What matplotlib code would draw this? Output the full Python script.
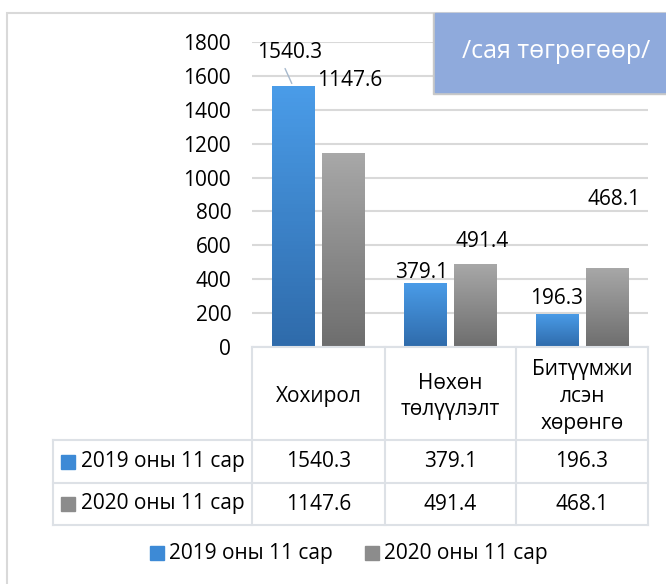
import matplotlib
matplotlib.use('Agg')
from matplotlib import pyplot as plt
from matplotlib.patches import Rectangle
import numpy as np

plt.rcParams['font.family'] = ['Open Sans', 'Noto Sans', 'DejaVu Sans']

categories = ['Хохирол', 'Нөхөн\nтөлүүлэлт', 'Битүүмжи\nлсэн\nхөрөнгө']
series_names = ['2019 оны 11 сар', '2020 оны 11 сар']
values_2019 = [1540.3, 379.1, 196.3]
values_2020 = [1147.6, 491.4, 468.1]
unit_label = '/сая төгрөгөөр/'
yticks = [0, 200, 400, 600, 800, 1000, 1200, 1400, 1600, 1800]

W, H = 666, 584
fs = 15
fig = plt.figure(figsize=(W / 100, H / 100), dpi=100)

def fx(px):
    return px / W

def fy(py):
    return 1 - py / H

# plot area in pixels
x0, x1, ytop, y0 = 252, 648, 42, 347
ax = fig.add_axes([fx(x0), fy(y0), fx(x1) - fx(x0), fy(ytop) - fy(y0)])
ax.set_xlim(-0.5, 2.5)
ax.set_ylim(0, 1800)
ax.set_yticks(yticks)
ax.set_xticks([])
for s in ax.spines.values():
    s.set_visible(False)
ax.tick_params(axis='y', length=0, pad=15, labelsize=fs)
ax.grid(axis='y', color='#d9d9d9', linewidth=1.5)
ax.set_axisbelow(True)

blue_grad = ['#2f6bab', '#4a9ce8']
gray_grad = ['#6e6e6e', '#a8a8a8']

def grad_bar(x, h, w, cols):
    bar = ax.bar(x, h, w, color='none', edgecolor='none', zorder=2)[0]
    c0 = np.array(matplotlib.colors.to_rgb(cols[0]))
    c1 = np.array(matplotlib.colors.to_rgb(cols[1]))
    t = np.linspace(0, 1, 64)[:, None]
    img = (c0 * (1 - t) + c1 * t)[:, None, :]
    im = ax.imshow(img, extent=[x - w / 2, x + w / 2, 0, h], origin='lower',
                   aspect='auto', zorder=2)
    im.set_clip_path(bar)
    return bar

xs = np.arange(len(categories))
bw = 0.32
off = 0.19
for i in xs:
    grad_bar(i - off, values_2019[i], bw, blue_grad)
    grad_bar(i + off, values_2020[i], bw, gray_grad)
ax.set_xlim(-0.5, 2.5)
ax.set_ylim(0, 1800)

# data labels (offsets in pixels, as placed in the original)
lab_off_2019 = [(-3, 34), (-3, 10), (0, 15)]
lab_off_2020 = [(7, 72), (7, 22), (7, 68)]
for i in xs:
    ax.annotate(f'{values_2019[i]:.1f}', (i - off, values_2019[i]),
                xytext=lab_off_2019[i], textcoords='offset pixels',
                ha='center', va='center', fontsize=fs, zorder=4)
    ax.annotate(f'{values_2020[i]:.1f}', (i + off, values_2020[i]),
                xytext=lab_off_2020[i], textcoords='offset pixels',
                ha='center', va='center', fontsize=fs, zorder=4)
# leader line for first label
ax.annotate('', (0 - off, values_2019[0]), xytext=(-9, 20),
            textcoords='offset pixels',
            arrowprops=dict(arrowstyle='-', color='#a6b8cc', lw=1))

# data table below the axes
line_c = '#dde1e6'
col_edges = [x0, 385, 516, x1]
row_y = [y0, 440, 483, 525]
lbl_left = 53
for xe in col_edges:
    fig.add_artist(plt.Line2D([fx(xe)] * 2, [fy(y0), fy(row_y[-1])], color=line_c, lw=1.5))
fig.add_artist(plt.Line2D([fx(x0), fx(x1)], [fy(y0), fy(y0)], color=line_c, lw=1.5))
fig.add_artist(plt.Line2D([fx(lbl_left)] * 2, [fy(row_y[1]), fy(row_y[-1])], color=line_c, lw=1.5))
for ye in row_y[1:]:
    fig.add_artist(plt.Line2D([fx(lbl_left), fx(x1)], [fy(ye), fy(ye)], color=line_c, lw=1.5))

for i, c in enumerate(categories):
    cx = (col_edges[i] + col_edges[i + 1]) / 2
    fig.text(fx(cx), fy((y0 + row_y[1]) / 2 + 3), c, ha='center', va='center',
             fontsize=fs, linespacing=1.35)

row_vals = [values_2019, values_2020]
sw_cols = ['#3d8ad6', '#8c8c8c']
for r in range(2):
    cy = (row_y[r + 1] + row_y[r + 2]) / 2
    fig.add_artist(Rectangle((fx(61), fy(cy + 7)), fx(14), 14 / H, color=sw_cols[r]))
    fig.text(fx(81), fy(cy), series_names[r], ha='left', va='center', fontsize=fs)
    for i in xs:
        cx = (col_edges[i] + col_edges[i + 1]) / 2
        fig.text(fx(cx), fy(cy), f'{row_vals[r][i]:.1f}', ha='center', va='center', fontsize=fs)

# bottom legend
leg_y = 553
for r, lx in enumerate([150, 365]):
    fig.add_artist(Rectangle((fx(lx), fy(leg_y + 7)), fx(14), 14 / H, color=sw_cols[r]))
    fig.text(fx(lx + 19), fy(leg_y), series_names[r], ha='left', va='center', fontsize=fs)

# outer frame
fig.add_artist(Rectangle((fx(7), fy(600)), fx(680), 587 / H, fill=False,
                         edgecolor='#d9d9d9', lw=1.5))

# unit box
fig.add_artist(Rectangle((fx(433), fy(94)), fx(240), 81 / H, color='#c8c8c8'))
fig.add_artist(Rectangle((fx(435), fy(92)), fx(240), 79 / H, color='#8faadc'))
fig.text(fx(556), fy(52), unit_label, ha='center', va='center', fontsize=18, color='white')

fig.savefig('out.png', dpi=100)
